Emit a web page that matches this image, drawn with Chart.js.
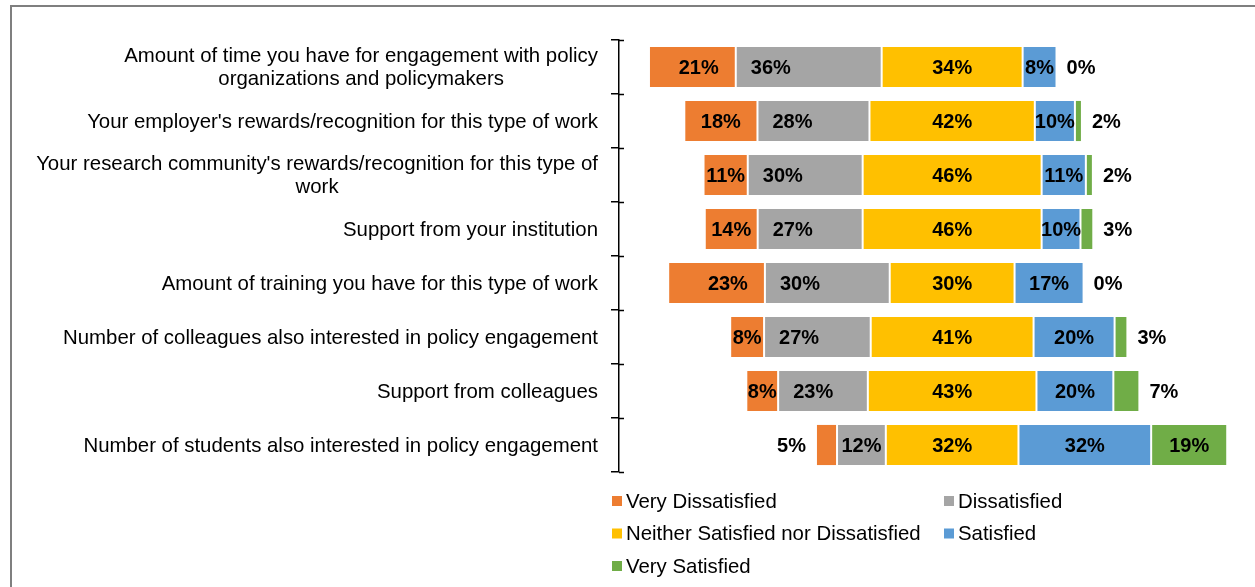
<!DOCTYPE html>
<html lang="en">
<head>
<meta charset="UTF-8">
<title>Satisfaction with policy engagement</title>
<script src="https://cdn.jsdelivr.net/npm/chart.js@4.4.1/dist/chart.umd.min.js"></script>
<style>
  html, body { margin: 0; padding: 0; background: #fff; }
  #wrap { position: relative; width: 1255px; height: 587px; overflow: hidden; }
  #frame { position: absolute; left: 10px; top: 5px; width: 1400px; height: 800px;
           border-left: 2px solid #7f7f7f; border-top: 2px solid #7f7f7f; }
  canvas { position: absolute; left: 0; top: 0; }
</style>
</head>
<body>
<div id="wrap">
  <div id="frame"></div>
  <canvas id="chart" width="1255" height="587"></canvas>
</div>
<script>
var categories = [
  ['Amount of time you have for engagement with policy', 'organizations and policymakers'],
  "Your employer's rewards/recognition for this type of work",
  ["Your research community's rewards/recognition for this type of", 'work'],
  'Support from your institution',
  'Amount of training you have for this type of work',
  'Number of colleagues also interested in policy engagement',
  'Support from colleagues',
  'Number of students also interested in policy engagement'
];
var seriesNames = ['Very Dissatisfied', 'Dissatisfied', 'Neither Satisfied nor Dissatisfied', 'Satisfied', 'Very Satisfied'];
var seriesColors = ['#ED7D31', '#A5A5A5', '#FFC000', '#5B9BD5', '#70AD47'];

// bar lengths as drawn (% of all respondents)
var veryDissatisfied = [21.0, 17.7, 10.7, 12.8, 23.4, 8.2, 7.7, 5.1];
var dissatisfied     = [35.3, 27.1, 27.8, 25.4, 30.2, 25.8, 21.7, 11.8];
var neither          = [34.1, 40.0, 43.3, 43.3, 30.2, 39.4, 40.8, 32.1];
var satisfied        = [8.2, 9.7, 10.7, 9.4, 16.7, 19.6, 18.6, 32.1];
var verySatisfied    = [0, 1.7, 1.7, 3.1, 0, 3.1, 6.3, 18.4];

// percentages printed on the bars
var vdLabels = ['21%', '18%', '11%', '14%', '23%', '8%', '8%', '5%'];
var dLabels  = ['36%', '28%', '30%', '27%', '30%', '27%', '23%', '12%'];
var nLabels  = ['34%', '42%', '46%', '46%', '30%', '41%', '43%', '32%'];
var sLabels  = ['8%', '10%', '11%', '10%', '17%', '20%', '20%', '32%'];
var vsLabels = ['0%', '2%', '2%', '3%', '0%', '3%', '7%', '19%'];

var CENTER = 80.6; // x value where the middle of the neutral segment sits
var FONT = '"Liberation Sans", Arial, sans-serif';
var TEXT_SIZE = 20.4;

var series = [veryDissatisfied, dissatisfied, neither, satisfied, verySatisfied];
var labelSets = [vdLabels, dLabels, nLabels, sLabels, vsLabels];

// invisible spacer so the bars line up on the neutral middle
var spacer = categories.map(function(c, i) {
  return CENTER - (veryDissatisfied[i] + dissatisfied[i] + neither[i] / 2);
});

var datasets = [{
  label: 'spacer',
  data: spacer,
  backgroundColor: 'rgba(0,0,0,0)',
  borderWidth: 0
}];
series.forEach(function(vals, s) {
  datasets.push({
    label: seriesNames[s],
    data: vals,
    backgroundColor: seriesColors[s],
    borderColor: 'rgba(255,255,255,0.55)',
    borderWidth: 1,
    borderSkipped: false
  });
});

var segLabels = {
  id: 'segLabels',
  afterDatasetsDraw: function(chart) {
    var ctx = chart.ctx;
    ctx.save();
    ctx.font = 'bold 20px ' + FONT;
    ctx.fillStyle = '#000';
    ctx.textBaseline = 'middle';
    ctx.textAlign = 'center';
    for (var s = 0; s < 5; s++) {
      var meta = chart.getDatasetMeta(s + 1);
      meta.data.forEach(function(bar, i) {
        var txt = labelSets[s][i];
        var left = Math.min(bar.base, bar.x), right = Math.max(bar.base, bar.x);
        var w = right - left;
        var tw = ctx.measureText(txt).width;
        var x = (left + right) / 2;
        if (s === 0 && w < 30) x = left - 10 - tw / 2;
        else if (s === 4 && w < 30) x = right + 10 + tw / 2;
        else if (s === 0) x = Math.max(x, right - 17 - tw / 2);
        else if (s === 1) x = Math.min(x, left + 15 + tw / 2);
        ctx.fillText(txt, x, bar.y + 1);
      });
    }
    ctx.restore();
  }
};

// category names: block right-aligned to the axis, wrapped lines centred in the block
var catLabels = {
  id: 'catLabels',
  afterDraw: function(chart) {
    var a = chart.chartArea, ctx = chart.ctx;
    var yScale = chart.scales.y;
    var lineH = 23;
    ctx.save();
    ctx.font = TEXT_SIZE + 'px ' + FONT;
    ctx.fillStyle = '#000';
    ctx.textBaseline = 'middle';
    ctx.textAlign = 'center';
    categories.forEach(function(c, i) {
      var lines = Array.isArray(c) ? c : [c];
      var widest = Math.max.apply(null, lines.map(function(l) { return ctx.measureText(l).width; }));
      var right = a.left - 21;
      var cx = right - widest / 2;
      var cy = yScale.getPixelForValue(i);
      lines.forEach(function(l, k) {
        ctx.fillText(l, cx, cy + (k - (lines.length - 1) / 2) * lineH + 1);
      });
    });
    ctx.restore();
  }
};

// tick marks cross the axis, draw the inner half
var crossTicks = {
  id: 'crossTicks',
  afterDraw: function(chart) {
    var a = chart.chartArea, ctx = chart.ctx;
    var step = (a.bottom - a.top) / categories.length;
    ctx.save();
    ctx.strokeStyle = '#000';
    ctx.lineWidth = 1.5;
    for (var i = 0; i <= categories.length; i++) {
      var y = Math.round(a.top + i * step) + 0.5;
      ctx.beginPath();
      ctx.moveTo(a.left, y);
      ctx.lineTo(a.left + 5, y);
      ctx.stroke();
    }
    ctx.restore();
  }
};

var sideLegend = {
  id: 'sideLegend',
  afterDraw: function(chart) {
    var a = chart.chartArea, ctx = chart.ctx;
    ctx.save();
    ctx.font = TEXT_SIZE + 'px ' + FONT;
    ctx.textBaseline = 'middle';
    ctx.textAlign = 'left';
    var colX = [a.left - 7, a.left + 325];
    seriesNames.forEach(function(name, k) {
      var x = colX[k % 2];
      var y = a.bottom + 29 + Math.floor(k / 2) * 32.5;
      ctx.fillStyle = seriesColors[k];
      ctx.fillRect(x, y - 5, 10, 10);
      ctx.fillStyle = '#000';
      ctx.fillText(name, x + 14, y + 1);
    });
    ctx.restore();
  }
};

var ctx = document.getElementById('chart').getContext('2d');
new Chart(ctx, {
  type: 'bar',
  data: { labels: categories, datasets: datasets },
  plugins: [segLabels, catLabels, crossTicks, sideLegend],
  options: {
    indexAxis: 'y',
    responsive: false,
    animation: false,
    layout: { padding: { top: 40, bottom: 115, right: 16, left: 0 } },
    datasets: { bar: { barPercentage: 0.78, categoryPercentage: 1 } },
    plugins: {
      legend: { display: false },
      tooltip: { enabled: false }
    },
    scales: {
      x: { stacked: true, min: 0, max: 150, display: false },
      y: {
        stacked: true,
        afterFit: function(scale) { scale.width = 619; },
        border: { display: true, color: '#000', width: 1.5 },
        grid: { display: true, drawOnChartArea: false, drawTicks: true, tickLength: 8, color: '#000', lineWidth: 1.5, offset: true },
        ticks: { display: false }
      }
    }
  }
});
</script>
</body>
</html>
